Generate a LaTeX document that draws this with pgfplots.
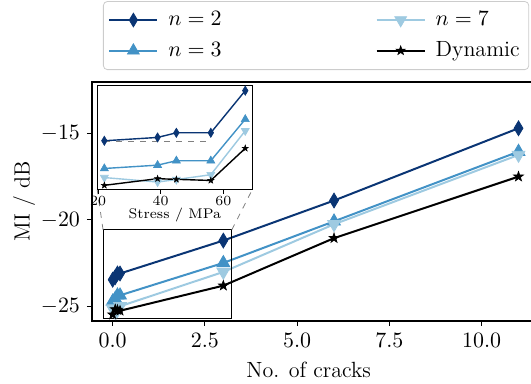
\documentclass[border=0pt]{standalone}
\usepackage{pgfplots}
\pgfplotsset{compat=1.18}
\usepackage{pgfplotstable}
\definecolor{cA}{HTML}{0A3574}
\definecolor{cB}{HTML}{4292C6}
\definecolor{cC}{HTML}{9ECAE1}
\pgfdeclareplotmark{fstar}{%
 \pgfpathmoveto{\pgfpointpolar{90}{\pgfplotmarksize}}%
 \pgfpathlineto{\pgfpointpolar{126}{0.4\pgfplotmarksize}}%
 \pgfpathlineto{\pgfpointpolar{162}{\pgfplotmarksize}}%
 \pgfpathlineto{\pgfpointpolar{198}{0.4\pgfplotmarksize}}%
 \pgfpathlineto{\pgfpointpolar{234}{\pgfplotmarksize}}%
 \pgfpathlineto{\pgfpointpolar{270}{0.4\pgfplotmarksize}}%
 \pgfpathlineto{\pgfpointpolar{306}{\pgfplotmarksize}}%
 \pgfpathlineto{\pgfpointpolar{342}{0.4\pgfplotmarksize}}%
 \pgfpathlineto{\pgfpointpolar{18}{\pgfplotmarksize}}%
 \pgfpathlineto{\pgfpointpolar{54}{0.4\pgfplotmarksize}}%
 \pgfpathclose
 \pgfusepathqfillstroke}

\pgfplotstableread{
cracks n2 n3 n7 dyn
0    -23.45 -24.70 -25.11 -25.46
0.07 -23.30 -24.55 -25.31 -25.16
0.13 -23.09 -24.35 -25.20 -25.19
0.2  -23.09 -24.35 -24.98 -25.24
3    -21.19 -22.48 -23.00 -23.79
6    -18.88 -20.08 -20.25 -21.05
11   -14.71 -16.06 -16.25 -17.50
}\maindata
\pgfplotstableread{
stress n2 n3 n7 dyn
22 -23.45 -24.70 -25.11 -25.46
39 -23.30 -24.55 -25.31 -25.16
45 -23.09 -24.35 -25.20 -25.19
56 -23.09 -24.35 -24.98 -25.24
67 -21.19 -22.48 -23.00 -23.79
}\insetdata

\begin{document}
\begin{tikzpicture}
\begin{axis}[
  at={(0pt,0pt)}, anchor=south west,
  scale only axis, width=223.4pt, height=119.5pt,
  xmin=-0.56, xmax=11.55, ymin=-25.83, ymax=-12.04,
  xtick={0,2.5,5,7.5,10}, ytick={-25,-20,-15},
  xticklabel style={/pgf/number format/.cd, fixed, fixed zerofill, precision=1},
  tick align=outside, xtick pos=bottom, ytick pos=left,
  major tick length=2.5pt,
  tick style={black, line width=0.5pt},
  axis line style={black, line width=0.6pt},
  font=\fontsize{11}{13}\selectfont,
  xlabel={No. of cracks}, ylabel={MI / dB},
  xlabel style={at={(axis description cs:0.485,-0.205)}, anchor=center},
  ylabel style={at={(axis description cs:-0.152,0.5)}, anchor=center},
  clip=false,
  legend columns=2,
  legend cell align=left,
  legend image code/.code={\draw[mark repeat=2,mark phase=2,#1] plot coordinates {(0pt,0pt)(12pt,0pt)(24pt,0pt)};},
  legend style={at={(axis description cs:0.0246,1.05)}, anchor=south west,
    draw=black!20, rounded corners=2pt, font=\fontsize{11}{13}\selectfont,
    inner xsep=2.5pt, inner ysep=3pt, row sep=2.5pt,
    /tikz/every odd column/.append style={column sep=3pt},
    /tikz/every even column/.append style={column sep=75pt}},
]
\addplot[forget plot, cA, line width=1pt, mark=diamond*, mark size=3.7pt, mark options={xscale=0.8, line width=0.4pt}] table[x=cracks,y=n2]{\maindata};
\addplot[forget plot, cB, line width=1pt, mark=triangle*, mark size=3.7pt, mark options={line width=0.4pt}] table[x=cracks,y=n3]{\maindata};
\addplot[forget plot, cC, line width=1pt, mark=triangle*, mark size=3.7pt, mark options={rotate=180, line width=0.4pt}] table[x=cracks,y=n7]{\maindata};
\addplot[forget plot, black, line width=1pt, mark=fstar, mark size=2.6pt, mark options={line width=0.3pt}] table[x=cracks,y=dyn]{\maindata};
\addlegendimage{cA, line width=1pt, mark=diamond*, mark size=3.4pt, mark options={xscale=0.8, line width=0.4pt}}
\addlegendentry{$n=2$}
\addlegendimage{cC, line width=1pt, mark=triangle*, mark size=3.4pt, mark options={rotate=180, line width=0.4pt}}
\addlegendentry{$n=7$}
\addlegendimage{cB, line width=1pt, mark=triangle*, mark size=3.4pt, mark options={line width=0.4pt}}
\addlegendentry{$n=3$}
\addlegendimage{black, line width=1pt, mark=fstar, mark size=2.4pt, mark options={line width=0.3pt}}
\addlegendentry{Dynamic}
\draw[black, line width=0.5pt] (axis cs:-0.26,-20.57) rectangle (axis cs:3.23,-25.71);
\draw[gray, dashed, line width=0.4pt] (axis cs:-0.26,-20.57) -- (axis cs:-0.417,-18.27);
\draw[gray, dashed, line width=0.4pt] (axis cs:3.23,-20.57) -- (axis cs:3.78,-18.27);
\end{axis}
\begin{axis}[
  at={(2.65pt,65.5pt)}, anchor=south west,
  scale only axis, width=77.5pt, height=52pt,
  xmin=19.75, xmax=69.25, ymin=-25.67, ymax=-20.98,
  ytick=\empty, xtick={20,40,60},
  tick align=outside, xtick pos=bottom,
  major tick length=1.8pt,
  tick style={black, line width=0.4pt},
  axis line style={black, line width=0.5pt},
  axis background/.style={fill=white},
  font=\fontsize{7}{8}\selectfont,
  xticklabel style={inner sep=1pt},
  xlabel={Stress / MPa},
  xlabel style={at={(axis description cs:0.5,-0.245)}, anchor=center},
]
\addplot[cA, line width=0.7pt, mark=diamond*, mark size=2.3pt, mark options={xscale=0.8, line width=0.3pt}] table[x=stress,y=n2]{\insetdata};
\addplot[cB, line width=0.7pt, mark=triangle*, mark size=2.3pt, mark options={line width=0.3pt}] table[x=stress,y=n3]{\insetdata};
\addplot[cC, line width=0.7pt, mark=triangle*, mark size=2.3pt, mark options={rotate=180, line width=0.3pt}] table[x=stress,y=n7]{\insetdata};
\addplot[black, line width=0.7pt, mark=fstar, mark size=1.7pt, mark options={line width=0.2pt}] table[x=stress,y=dyn]{\insetdata};
\addplot[gray, dashed, line width=0.4pt] coordinates {(22,-23.46) (56,-23.46)};
\end{axis}
\pgfresetboundingbox
\useasboundingbox (-46pt,-31.5pt) rectangle (219.5pt,160.5pt);
\end{tikzpicture}
\end{document}
